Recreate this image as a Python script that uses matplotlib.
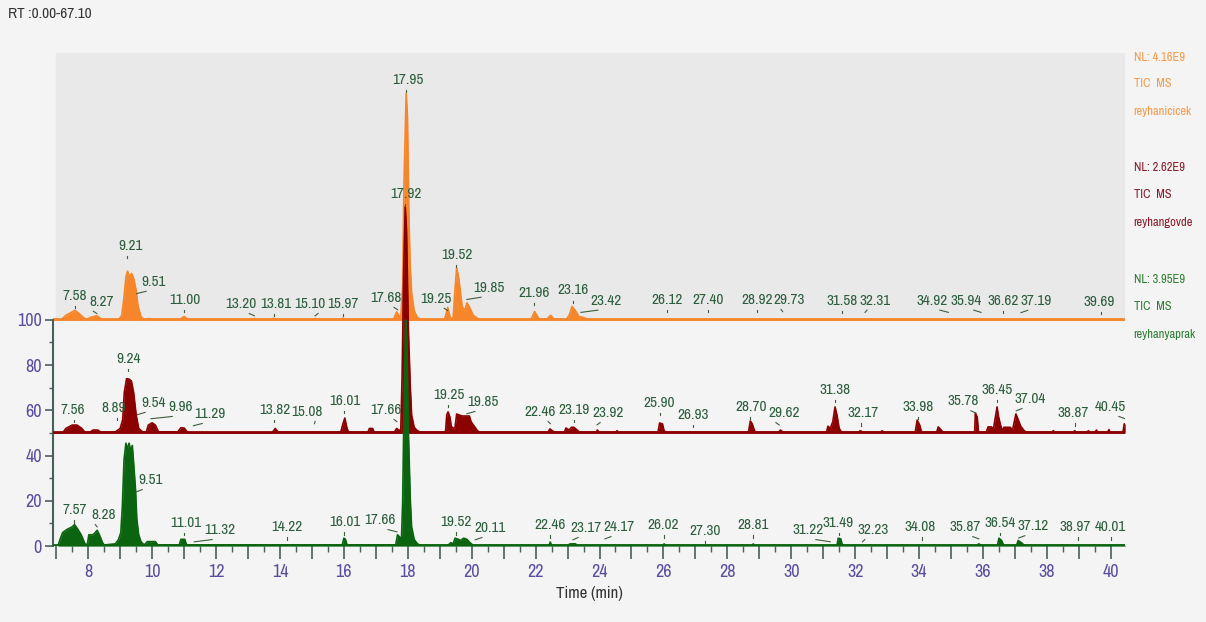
import numpy as np
import matplotlib
matplotlib.use("Agg")
import matplotlib.pyplot as plt
from matplotlib.ticker import MultipleLocator, FuncFormatter

# narrow face first, regular ones as fallback
plt.rcParams['font.family'] = ['Liberation Sans Narrow', 'Archivo Narrow', 'Liberation Sans', 'DejaVu Sans']

# --- trace vertices (time in min, offset % scale) ---
orange_t = [6.9, 7.15, 7.3, 7.5, 7.58, 7.7, 7.85, 7.95, 8.05, 8.27, 8.4, 8.5, 8.95, 9.05, 9.12,
            9.18, 9.23, 9.3, 9.36, 9.42, 9.5, 9.56, 9.65, 9.75, 9.9, 10.05, 10.85, 11.0, 11.15,
            13.15, 13.2, 13.25, 13.78, 13.81, 13.85, 15.06, 15.1, 15.14, 15.94, 15.97, 16.0,
            17.55, 17.65, 17.72, 17.78, 17.84, 17.88, 17.95, 17.99, 18.03, 18.07, 18.12, 18.2,
            18.3, 18.45, 19.15, 19.25, 19.33, 19.42, 19.47, 19.53, 19.6, 19.7, 19.78, 19.85,
            19.92, 20.05, 20.2, 20.35, 21.85, 21.97, 22.1, 22.35, 22.47, 22.58, 22.95, 23.05,
            23.14, 23.25, 23.35, 23.5, 23.6, 23.7, 40.45]
orange_y = [100, 100, 102, 103.5, 104.2, 103, 101, 100, 101, 101.8, 100.5, 100, 100, 102, 110,
            119, 121.5, 119, 120.5, 118.5, 113, 106, 101.5, 100, 100.6, 100, 100, 101.5, 100,
            100, 100.6, 100, 100, 100.8, 100, 100, 100.6, 100, 100, 100.8, 100,
            100, 103.5, 102, 101, 115, 160, 200, 190, 150, 126, 112, 104,
            101, 100, 100, 105.5, 101, 100.5, 112, 123, 118, 106, 104, 107.5,
            106, 102, 100.5, 100, 100, 103.7, 100.5, 100.3, 102, 100.3, 100, 102,
            105.9, 104, 101.5, 101, 100.5, 100, 100]

red_t = [6.9, 7.2, 7.3, 7.5, 7.65, 7.8, 7.9, 8.05, 8.15, 8.3, 8.4, 8.85, 9.0, 9.08, 9.13, 9.2,
         9.28, 9.35, 9.42, 9.5, 9.58, 9.7, 9.82, 9.88, 10.0, 10.1, 10.2, 10.8, 10.9, 11.0, 11.1,
         11.2, 13.75, 13.85, 13.95, 15.9, 15.97, 16.03, 16.1, 16.15, 16.75, 16.8, 16.9, 16.95,
         17.58, 17.65, 17.72, 17.78, 17.82, 17.87, 17.92, 17.96, 18.02, 18.08, 18.12, 18.2,
         18.3, 18.4, 19.18, 19.22, 19.26, 19.32, 19.36, 19.42, 19.48, 19.53, 19.6, 19.7,
         19.93, 19.98, 20.08, 20.18, 20.25, 22.38, 22.45, 22.52, 22.6, 22.9, 22.95, 23.05,
         23.12, 23.2, 23.3, 23.38, 23.9, 23.93, 24.0, 24.5, 24.55, 24.6, 25.83, 25.88, 25.97,
         26.02, 26.08, 28.66, 28.72, 28.78, 28.85, 28.9, 29.6, 29.66, 29.75, 31.1, 31.15,
         31.22, 31.3, 31.37, 31.43, 31.5, 31.58, 32.1, 32.16, 32.25, 32.8, 32.84, 32.9, 33.88,
         33.94, 34.02, 34.08, 34.55, 34.6, 34.68, 34.75, 35.74, 35.76, 35.82, 35.86, 36.1,
         36.16, 36.26, 36.33, 36.4, 36.44, 36.49, 36.55, 36.62, 36.65, 36.86, 36.92, 36.98,
         37.03, 37.1, 37.18, 37.3, 37.4, 38.15, 38.2, 38.25, 38.82, 38.87, 38.92, 39.25, 39.3,
         39.35, 39.5, 39.55, 39.6, 39.9, 39.94, 39.98, 40.38, 40.42, 40.45]
red_y = [50, 50, 52, 53.5, 53.5, 52, 50.3, 50.3, 51.3, 51.3, 50.3, 50.5, 52, 56, 68, 74,
         73.8, 73, 68, 58, 52, 50.5, 50.5, 53.5, 54.5, 53.5, 50.5, 50.5, 52.3, 52.2, 50.5,
         50, 50, 52, 50.3, 50.3, 54, 56.6, 52, 50.3, 50.3, 52, 52, 50.3,
         50.3, 52, 51.3, 51, 73.5, 120, 150, 140, 95, 70, 58, 52.5,
         51, 50.3, 50.3, 58, 59.3, 57, 53, 52, 52.5, 58.4, 58, 57.5,
         57.5, 55, 53, 51, 50.3, 50.3, 51.8, 51, 50.3, 50.3, 52.2, 51.3,
         52.5, 52.5, 51.3, 50.3, 50.3, 51.3, 50.3, 50.3, 51, 50.3, 50.3, 54.4, 54,
         51, 50.3, 50.3, 55.3, 54, 51, 50.3, 50.3, 51.3, 50.3, 50.3, 53,
         52, 55, 61.5, 58, 52, 50.3, 50.3, 51, 50.3, 50.3, 51, 50.3, 50.3,
         55.7, 53.5, 50.3, 50.3, 52.7, 51.5, 50.3, 50.3, 58.8, 57, 50.3, 50.3,
         52.7, 52.7, 52, 58, 61.5, 57, 53.5, 50.5, 52.5, 52.5, 51, 55,
         58.4, 56, 53, 50.8, 50.3, 50.3, 51, 50.3, 50.3, 51, 50.3, 50.3, 51,
         50.3, 50.3, 51.3, 50.3, 50.3, 51.5, 50.3, 50.3, 54, 54]

green_t = [6.9, 7.05, 7.12, 7.2, 7.35, 7.5, 7.57, 7.65, 7.78, 7.9, 7.97, 8.02, 8.15, 8.22, 8.28,
           8.35, 8.45, 8.5, 8.85, 8.95, 9.02, 9.07, 9.12, 9.18, 9.22, 9.28, 9.33, 9.38, 9.43,
           9.48, 9.52, 9.58, 9.65, 9.75, 9.85, 10.1, 10.18, 10.85, 10.9, 11.02, 11.08, 15.95,
           16.0, 16.05, 16.1, 17.62, 17.68, 17.75, 17.8, 17.84, 17.88, 17.93, 17.97, 18.02,
           18.08, 18.12, 18.2, 18.3, 18.4, 19.25, 19.35, 19.42, 19.48, 19.58, 19.65, 19.75,
           19.85, 19.95, 20.05, 22.42, 22.46, 22.5, 23.0, 23.08, 23.25, 23.3, 26.0, 26.02,
           26.06, 28.78, 28.81, 28.85, 31.43, 31.47, 31.55, 31.6, 35.8, 35.87, 35.95, 36.45,
           36.5, 36.58, 36.65, 37.05, 37.1, 37.2, 37.3, 40.45]
green_y = [0, 0, 3, 6, 7.5, 8.5, 9.5, 8, 5, 1, 0.5, 5, 5, 6, 7,
           5, 1.5, 0.5, 1, 3, 6, 18, 38, 45.5, 43, 45.5, 42, 44.5, 35,
           25, 12, 5, 2, 0.5, 2, 2, 0.5, 0.5, 3, 3, 0.5, 0.5,
           3.5, 3, 0.5, 0.5, 5, 4, 2, 19.5, 60, 100, 92, 50,
           20, 8.5, 3, 1, 0.3, 0.3, 1.5, 1, 3.5, 3, 2.5, 3.5,
           3, 1.5, 0.3, 0.3, 1.8, 0.3, 0.3, 1, 1, 0.3, 0.3, 1,
           0.3, 0.3, 1, 0.3, 0.3, 3.5, 3.2, 0.3, 0.3, 1, 0.3, 0.3,
           3.5, 2.5, 0.3, 0.3, 2.5, 1.5, 0.3, 0.3]

# peak labels: text, label centre (time, %)
orange_labels = ["7.58", "8.27", "9.21", "9.51", "11.00", "13.20", "13.81", "15.10", "15.97",
                 "17.68", "17.95", "19.25", "19.52", "19.85", "21.96", "23.16", "23.42", "26.12",
                 "27.40", "28.92", "29.73", "31.58", "32.31", "34.92", "35.94", "36.62", "37.19",
                 "39.69"]
orange_lx = [7.59, 8.41, 9.31, 10.06, 11.03, 12.79, 13.88, 14.94, 15.98, 17.32, 18.01, 18.89,
             19.54, 20.54, 21.95, 23.17, 24.2, 26.11, 27.39, 28.93, 29.93, 31.58, 32.62, 34.4,
             35.46, 36.62, 37.65, 39.65]
orange_ly = [110.6, 108, 132.7, 116.8, 108.8, 107, 107, 107, 107, 109.7, 206, 109.3, 128.8,
             114.2, 112, 113, 108.5, 108.8, 108.8, 108.8, 108.8, 108.5, 108.5, 108.5, 108.5,
             108.4, 108.4, 108]

red_labels = ["7.56", "8.89", "9.24", "9.54", "9.96", "11.29", "13.82", "15.08", "16.01",
              "17.66", "17.92", "19.25", "19.85", "22.46", "23.19", "23.92", "25.90", "26.93",
              "28.70", "29.62", "31.38", "32.17", "33.98", "35.78", "36.45", "37.04", "38.87",
              "40.45"]
red_lx = [7.53, 8.78, 9.25, 10.03, 10.88, 11.82, 13.85, 14.85, 16.04, 17.32, 17.95, 19.29,
          20.35, 22.14, 23.2, 24.27, 25.86, 26.92, 28.74, 29.77, 31.37, 32.24, 33.96, 35.37,
          36.43, 37.47, 38.81, 40.0]
red_ly = [60.2, 61.1, 82.7, 63.3, 61.5, 58.4, 60.2, 59.3, 64.2, 60.2, 155.8, 66.8, 63.7, 59.3,
          60.2, 58.8, 63.3, 58, 61.5, 58.8, 69, 58.8, 61.5, 64, 69, 65, 58.8, 61.5]

green_labels = ["7.57", "8.28", "9.51", "11.01", "11.32", "14.22", "16.01", "17.66", "19.52",
                "20.11", "22.46", "23.17", "24.17", "26.02", "27.30", "28.81", "31.22", "31.49",
                "32.23", "34.08", "35.87", "36.54", "37.12", "38.97", "40.01"]
green_lx = [7.59, 8.47, 9.94, 11.06, 12.13, 14.22, 16.04, 17.13, 19.51, 20.57, 22.45, 23.58,
            24.61, 25.99, 27.3, 28.8, 30.52, 31.46, 32.55, 34.02, 35.43, 36.53, 37.56, 38.9,
            40.0]
green_ly = [15.9, 13.7, 29.2, 10.2, 7.1, 8.4, 10.6, 11.5, 10.6, 8, 9.3, 8, 8.4, 9.3, 6.6,
            9.3, 7.1, 10.2, 7.1, 8.4, 8.4, 10.2, 8.8, 8.4, 8.4]

ORANGE = '#f7862a'
RED = '#8b0000'
GREEN = '#0a6410'
LABEL = '#2c5e3c'
BG = '#f4f4f4'

fig = plt.figure(figsize=(12.06, 6.22), dpi=100, facecolor=BG)
ax = fig.add_axes([0.044, 0.122, 0.889, 0.793])
ax.set_facecolor(BG)
ax.set_xlim(6.9, 40.45)
ax.set_ylim(0, 218)

ax.axhspan(100, 218, xmin=(6.98 - 6.9) / (40.45 - 6.9), xmax=1, color='#e9e9e9', zorder=0)

traces = [(orange_t, orange_y, 100, ORANGE, 2),
          (red_t, red_y, 50, RED, 3),
          (green_t, green_y, 0, GREEN, 4)]
for t, y, base, col, z in traces:
    ax.fill_between(t, base, y, color=col, lw=0, zorder=z)
    ax.plot(t, y, color=col, lw=1.2, zorder=z)
    ax.plot([6.9, 40.45], [base + 0.3, base + 0.3], color=col, lw=2, zorder=z)


def peak_text(labels, lx, ly):
    for txt, x, y in zip(labels, lx, ly):
        rt = float(txt)
        ax.text(x, y, txt, ha='center', va='center', fontsize=11, color=LABEL, zorder=6)
        if abs(x - rt) > 0.12:
            # short leader under an offset label
            ax.plot([x - 0.25 * np.sign(x - rt), rt], [y - 4.2, y - 5.2],
                    color='#3e5e3e', lw=0.8, zorder=6)
        else:
            ax.plot([rt, rt], [y - 4.5, y - 5.5], color='#3e5e3e', lw=0.8, zorder=6)


peak_text(orange_labels, orange_lx, orange_ly)
peak_text(red_labels, red_lx, red_ly)
peak_text(green_labels, green_lx, green_ly)

# axes styling
for s in ['top', 'right', 'bottom']:
    ax.spines[s].set_visible(False)
ax.spines['left'].set_bounds(0, 100)
ax.spines['left'].set_color('#4a5e5e')
ax.spines['left'].set_linewidth(1.5)

ax.set_yticks([0, 20, 40, 60, 80, 100])
ax.set_yticks(np.arange(0, 101, 10), minor=True)
ax.tick_params(axis='y', which='major', length=6, width=1.2, color='#4a5e5e',
               labelcolor='#5b4d9e', labelsize=13, pad=2)
ax.tick_params(axis='y', which='minor', length=3, width=1, color='#4a5e5e')

ax.xaxis.set_major_locator(MultipleLocator(1))
ax.xaxis.set_minor_locator(MultipleLocator(0.5))
ax.xaxis.set_major_formatter(FuncFormatter(lambda v, p: f"{int(round(v))}" if round(v) % 2 == 0 else ""))
ax.tick_params(axis='x', which='major', length=9, width=1.2, color='#4a5e5e',
               labelcolor='#5b4d9e', labelsize=13, pad=4)
ax.tick_params(axis='x', which='minor', length=4, width=1, color='#4a5e5e')
ax.set_xlabel("Time (min)", fontsize=12, color='#333333', labelpad=4)

fig.text(0.007, 0.977, "RT :0.00-67.10", fontsize=11, color='#333333', va='center')

side = [("NL: 4.16E9", "TIC  MS", "reyhanicicek", '#f59a4a', 0.907),
        ("NL: 2.62E9", "TIC  MS", "reyhangovde", '#8b1a2a', 0.730),
        ("NL: 3.95E9", "TIC  MS", "reyhanyaprak", '#2e7d32', 0.550)]
for nl, tic, name, col, y0 in side:
    fig.text(0.940, y0, nl, fontsize=9, color=col, va='center')
    fig.text(0.940, y0 - 0.042, tic, fontsize=9, color=col, va='center')
    fig.text(0.940, y0 - 0.087, name, fontsize=9, color=col, va='center')

fig.savefig("out.png", dpi=100, facecolor=BG)
